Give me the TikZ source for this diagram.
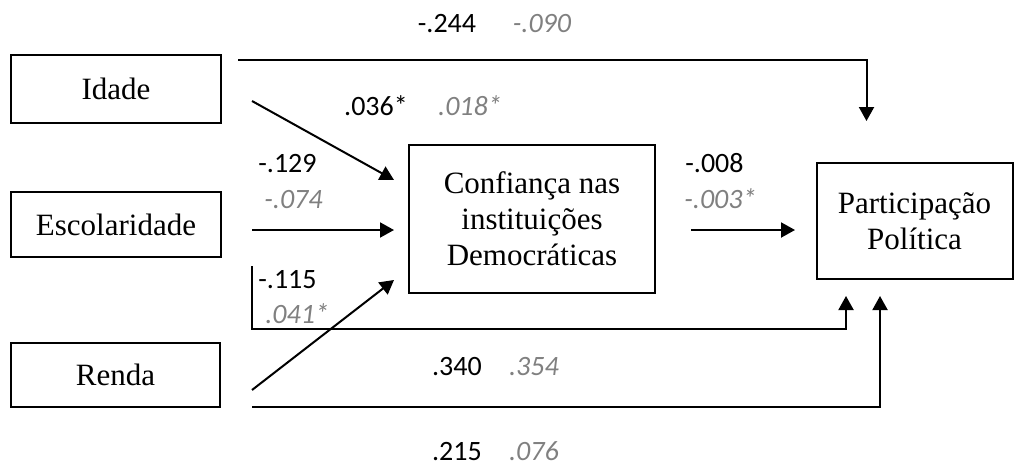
\documentclass[tikz,border=0pt]{standalone}
\usepackage{fontspec}
\setmainfont{Liberation Serif}
\newfontfamily\coeffont{Carlito}
\usepackage{tikz}
\usetikzlibrary{arrows.meta}
\usetikzlibrary{calc}
\colorlet{cinza}{black!50}
\tikzset{%
  seta/.style={-{Triangle[length=7pt,width=7.5pt]},line width=1pt},
  caixa/.style={%
    draw, line width=1pt, inner sep=0pt, align=center,
    font=\fontsize{15.5}{18}\selectfont
  },
  coef/.style={inner sep=0pt, font=\coeffont\fontsize{14}{16}\selectfont},
  coefcinza/.style={%
    coef, text=cinza,
    font=\coeffont\itshape\fontsize{14}{16}\selectfont
  }
}

\begin{document}
\begin{tikzpicture}[x=0.5pt,y=-0.5pt]
\useasboundingbox (0,0) rectangle (1015,465);

% caixas
\node[caixa,minimum width=105pt,minimum height=34pt] (idade) at (116,89) {Idade};
\node[caixa,minimum width=105pt,minimum height=32.5pt] (escol) at (116,224.5) {Escolaridade};
\node[caixa,minimum width=104.5pt,minimum height=32pt] (renda) at (115.5,375) {Renda};
\node[caixa,minimum width=123pt,minimum height=74pt] (conf) at (532,219) {Confiança nas\\instituições\\Democráticas};
\node[caixa,minimum width=98pt,minimum height=58pt] (part) at (914.5,221) {Participação\\Política};

% setas
\draw[seta] ($(idade.east)+(16,-29)$) -| ($(part.north)+(-48,-41)$);
\draw[seta] ($(idade.east)+(30,12)$) -- ($(conf.west)+(-14,-39)$);
\draw[seta] ($(escol.east)+(30,5.5)$) -- ($(conf.west)+(-14,11)$);
\draw[seta] ($(escol.east)+(30,41.5)$) |- ($(part.south)+(-68.5,49)$) -- ($(part.south)+(-68.5,16)$);
\draw[seta] ($(renda.east)+(31,15)$) -- ($(conf.west)+(-14,61)$);
\draw[seta] ($(renda.east)+(31,32)$) -| ($(part.south)+(-34.5,16)$);
\draw[seta] ($(conf.east)+(35,11)$) -- ($(part.west)+(-20.5,9)$);

% coeficientes
\node[coef,anchor=base] (c1) at (447,33) {-.244};
\node[coefcinza,anchor=base] (c1b) at (542,33) {-.090};
\node[coef,anchor=base] (c2) at (376,115) {.036*};
\node[coefcinza,anchor=base] (c2b) at (470,115) {.018*};
\node[coef,anchor=base west] (c3) at (258,172) {-.129};
\node[coefcinza,anchor=base west] (c3b) at (264,208) {-.074};
\node[coef,anchor=base west] (c4) at (685,172) {-.008};
\node[coefcinza,anchor=base west] (c4b) at (684,208) {-.003*};
\node[coef,anchor=base west] (c5) at (258,288) {-.115};
\node[coefcinza,anchor=base west] (c5b) at (265,323) {.041*};
\node[coef,anchor=base] (c6) at (457,375) {.340};
\node[coefcinza,anchor=base] (c6b) at (534,375) {.354};
\node[coef,anchor=base] (c7) at (457,460) {.215};
\node[coefcinza,anchor=base] (c7b) at (534,460) {.076};
\end{tikzpicture}
\end{document}
